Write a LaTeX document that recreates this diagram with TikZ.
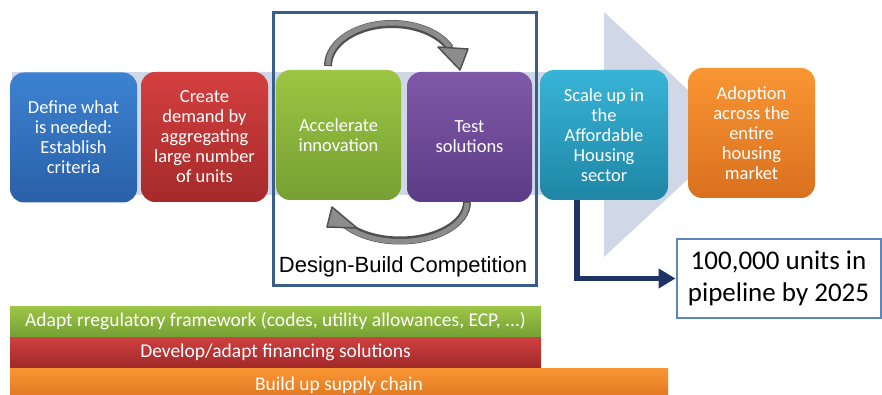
\documentclass[tikz,border=0pt]{standalone}
\usepackage{fontspec}
\setmainfont{Carlito}
\newfontfamily\arialfont{Liberation Sans}
\usetikzlibrary{arrows.meta}

\definecolor{bandgray}{HTML}{D0D7E6}
\definecolor{framecol}{HTML}{3A5E8C}
\definecolor{goalcol}{HTML}{5B86C0}
\definecolor{navy}{HTML}{1F3364}
\definecolor{loopdark}{HTML}{505050}
\definecolor{looplight}{HTML}{8C8C8C}

\begin{document}
\begin{tikzpicture}[x=1pt,y=-1pt,
  stepbox/.style={rounded corners=14pt, minimum width=127pt, minimum height=130pt,
    inner sep=0pt, align=center, text=white, font=\fontsize{18.5}{20}\selectfont},
  supportbar/.style={minimum height=31pt, inner sep=0pt, text=white,
    font=\fontsize{19.5}{22}\selectfont}]
\useasboundingbox (0,0) rectangle (882,395);

% Draw the background arrow
\fill[bandgray] (12,72) rectangle (604,195);
\fill[bandgray] (604,12) -- (736,134.5) -- (604,257) -- cycle;

% Draw the competition frame
\draw[framecol, line width=3pt] (273,13) rectangle (536,285);
\node[font=\arialfont\fontsize{22}{26}\selectfont] (dbc) at (403,267) {Design-Build Competition};

% Draw the steps
\node[stepbox, top color={rgb,255:red,60;green,130;blue,210}, bottom color={rgb,255:red,42;green,96;blue,168}] (define) at (73.5,137.5) {Define what\\is needed:\\Establish\\criteria};
\node[stepbox, top color={rgb,255:red,212;green,63;blue,63}, bottom color={rgb,255:red,165;green,42;blue,42}] (demand) at (204.5,137) {Create\\demand by\\aggregating\\large number\\of units};
\node[stepbox, minimum width=125pt, top color={rgb,255:red,156;green,197;blue,67}, bottom color={rgb,255:red,118;green,160;blue,50}] (accel) at (338.5,135) {Accelerate\\innovation};
\node[stepbox, minimum width=125pt, top color={rgb,255:red,128;green,88;blue,168}, bottom color={rgb,255:red,92;green,60;blue,134}] (test) at (469.5,137) {Test\\solutions};
\node[stepbox, minimum width=128pt, top color={rgb,255:red,56;green,180;blue,214}, bottom color={rgb,255:red,30;green,134;blue,166}] (scale) at (604,135) {Scale up in\\the\\Affordable\\Housing\\sector};
\node[stepbox, top color={rgb,255:red,249;green,150;blue,51}, bottom color={rgb,255:red,217;green,112;blue,30}] (adopt) at (751.5,133) {Adoption\\across the\\entire\\housing\\market};

% Draw the loop arrows
\draw[loopdark, line width=8pt] (328,66) arc[start angle=180, end angle=25, x radius=64pt, y radius=42pt];
\draw[looplight, line width=5pt] (328,65) arc[start angle=180, end angle=25, x radius=64pt, y radius=42pt];
\draw[loopdark, fill=looplight, line width=1.5pt, line join=round] (438,47) -- (468,49) -- (460,70) -- cycle;

\draw[loopdark, line width=8pt] (467,202) arc[start angle=0, end angle=-145, x radius=67pt, y radius=38.5pt];
\draw[looplight, line width=5pt] (467,203) arc[start angle=0, end angle=-145, x radius=67pt, y radius=38.5pt];
\draw[loopdark, fill=looplight, line width=1.5pt, line join=round] (332,207) -- (357,228) -- (327,227) -- cycle;

% Draw the target
\node[draw=goalcol, line width=2pt, fill=white, minimum width=204pt, minimum height=79pt,
  align=center, font=\fontsize{27}{32}\selectfont] (goal) at (778.5,278.5) {100,000 units in\\pipeline by 2025};
\draw[navy, line width=5.5pt, -{Triangle[length=17pt,width=19pt]}] ([xshift=-27pt]scale.south) |- (goal.west);

% Draw the support bars
\node[supportbar, minimum width=531pt, top color={rgb,255:red,157;green,198;blue,70}, bottom color={rgb,255:red,117;green,160;blue,53}] (regul) at (275.5,321.5) {Adapt rregulatory framework (codes, utility allowances, ECP, ...)};
\node[supportbar, minimum width=531pt, top color={rgb,255:red,208;green,64;blue,64}, bottom color={rgb,255:red,160;green,40;blue,40}] (finance) at (275.5,352.5) {Develop/adapt financing solutions};
\node[supportbar, minimum width=658pt, minimum height=34pt, top color={rgb,255:red,249;green,150;blue,51}, bottom color={rgb,255:red,220;green,116;blue,32}] (supply) at (339,385) {Build up supply chain};
\end{tikzpicture}
\end{document}
